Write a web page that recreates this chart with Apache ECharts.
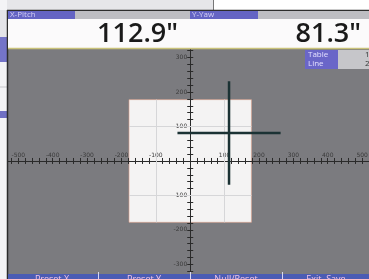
<!DOCTYPE html>
<html>
<head>
<meta charset="utf-8">
<script src="https://cdn.jsdelivr.net/npm/echarts@6/dist/echarts.min.js"></script>
<style>
  html, body { margin: 0; padding: 0; background: #fff; }
  #chart { width: 369px; height: 279px; }
</style>
</head>
<body>
<div id="chart"></div>
<script>
// readings shown on the display
const xPitch = 112.9;
const yYaw = 81.3;
const crossHalf = 150;          // half length of the crosshair arms
const tableHalf = 178;          // half size of the white table square
const tableGrid = [-100, 100];  // faint grid lines inside the square

const xLabels = [-500, -400, -300, -200, -100, 100, 200, 300, 400, 500];
const yLabels = [-300, -200, -100, 100, 200, 300];
const minorTicks = [];
for (let v = -520; v <= 520; v += 20) minorTicks.push(v);

const buttons = ['Preset X', 'Preset Y', 'Null/Reset', 'Exit, Save'];

// plot extents
const xMin = -530, xMax = 520, yMin = -328, yMax = 325;
const W = 369, H = 279;
const gLeft = 8, gRight = 0, gTop = 49, gBottom = 5;

// axes sit on zero: shift them in from the grid edge
const gW = W - gLeft - gRight, gH = H - gTop - gBottom;
const xAxisOffset = -gH * (0 - yMin) / (yMax - yMin);
const yAxisOffset = -gW * (0 - xMin) / (xMax - xMin);

const chart = echarts.init(document.getElementById('chart'));

// grid lines inside the square
let gridLines = [];
tableGrid.forEach(v => {
    gridLines.push([{coord: [v, tableHalf]}, {coord: [v, -tableHalf]}]);
    gridLines.push([{coord: [-tableHalf, v]}, {coord: [tableHalf, v]}]);
});

function axisX(inside) {
    return {
        type: 'value', min: xMin, max: xMax, z: 3, position: 'bottom', offset: xAxisOffset,
        axisLine: {show: !inside, onZero: false, lineStyle: {color: '#2a2a2a', width: 1}},
        axisTick: {show: true, inside: inside, length: 3, customValues: minorTicks,
            lineStyle: {color: '#2a2a2a'}},
        axisLabel: {show: !inside, inside: true, margin: 3, customValues: xLabels,
            fontSize: 6, color: '#3a3a3a', fontFamily: 'DejaVu Sans'},
        splitLine: {show: false}
    };
}
function axisY(inside) {
    return {
        type: 'value', min: yMin, max: yMax, z: 3, position: 'left', offset: yAxisOffset,
        axisLine: {show: !inside, onZero: false, lineStyle: {color: '#2a2a2a', width: 1}},
        axisTick: {show: true, inside: inside, length: 3, customValues: minorTicks,
            lineStyle: {color: '#2a2a2a'}},
        axisLabel: {show: !inside, margin: 3, customValues: yLabels,
            fontSize: 6, color: '#3a3a3a', fontFamily: 'DejaVu Sans'},
        splitLine: {show: false}
    };
}

const font = 'Open Sans';
let graphic = [
    // window behind the device
    {type: 'rect', shape: {x: 0, y: 0, width: 213, height: 10}, style: {fill: '#e6e6e9'}},
    {type: 'rect', shape: {x: 0, y: 0, width: 7, height: 279}, style: {fill: '#f4f4f6'}},
    {type: 'rect', shape: {x: 0, y: 10, width: 7, height: 27}, style: {fill: '#e4e4e8'}},
    {type: 'rect', shape: {x: 0, y: 37, width: 7, height: 25}, style: {fill: '#7474c8'}},
    {type: 'rect', shape: {x: 0, y: 111, width: 7, height: 7}, style: {fill: '#7070c4'}},
    {type: 'line', shape: {x1: 0, y1: 87, x2: 7, y2: 87}, style: {stroke: '#c8c8cc', lineWidth: 1}},
    {type: 'line', shape: {x1: 213.5, y1: 0, x2: 213.5, y2: 10}, style: {stroke: '#777', lineWidth: 1}},
    // device frame
    {type: 'line', shape: {x1: 7, y1: 10.5, x2: 369, y2: 10.5}, style: {stroke: '#2c2c2c', lineWidth: 1.5}},
    {type: 'line', shape: {x1: 7.5, y1: 10, x2: 7.5, y2: 279}, style: {stroke: '#2c2c2c', lineWidth: 1.5}},
    // header bar
    {type: 'rect', shape: {x: 8, y: 11, width: 361, height: 8}, style: {fill: '#bdbdc2'}},
    {type: 'rect', shape: {x: 8, y: 11, width: 67, height: 8}, style: {fill: '#6464c4'}},
    {type: 'rect', shape: {x: 190, y: 11, width: 68, height: 8}, style: {fill: '#6464c4'}},
    {type: 'text', x: 10, y: 15, style: {text: 'X-Pitch', fill: '#d4d0f4', fontSize: 8,
        fontFamily: font, verticalAlign: 'middle'}},
    {type: 'text', x: 192, y: 15, style: {text: 'Y-Yaw', fill: '#d4d0f4', fontSize: 8,
        fontFamily: font, verticalAlign: 'middle'}},
    // readout panel
    {type: 'rect', shape: {x: 8, y: 19, width: 361, height: 29}, style: {fill: '#fbfafb'}},
    {type: 'text', x: 178, y: 34.5, style: {text: xPitch.toFixed(1) + '"', fill: '#1a1a1a',
        fontSize: 27, fontWeight: 600, fontFamily: font, align: 'right', verticalAlign: 'middle'}},
    {type: 'text', x: 361, y: 34.5, style: {text: yYaw.toFixed(1) + '"', fill: '#1a1a1a',
        fontSize: 27, fontWeight: 600, fontFamily: font, align: 'right', verticalAlign: 'middle'}},
    {type: 'line', shape: {x1: 8, y1: 48.5, x2: 369, y2: 48.5}, style: {stroke: '#c9c27a', lineWidth: 1.5}},
    // Table / Line box
    {type: 'rect', shape: {x: 305, y: 50, width: 33, height: 19}, style: {fill: '#6a66c8'}},
    {type: 'rect', shape: {x: 338, y: 50, width: 31, height: 19}, style: {fill: '#c6c6ca'}},
    {type: 'text', x: 308, y: 54.5, style: {text: 'Table', fill: '#e4e0ff', fontSize: 8,
        fontFamily: font, verticalAlign: 'middle'}},
    {type: 'text', x: 308, y: 63.5, style: {text: 'Line', fill: '#e4e0ff', fontSize: 8,
        fontFamily: font, verticalAlign: 'middle'}},
    {type: 'text', x: 365, y: 54.5, style: {text: '1', fill: '#333', fontSize: 8,
        fontFamily: font, verticalAlign: 'middle'}},
    {type: 'text', x: 365, y: 63.5, style: {text: '2', fill: '#333', fontSize: 8,
        fontFamily: font, verticalAlign: 'middle'}},
    // bottom button bar
    {type: 'rect', shape: {x: 8, y: 274, width: 361, height: 5}, style: {fill: '#4b5cb4'}}
];
const btnCentres = [52, 144, 236, 326];
buttons.forEach((b, i) => {
    graphic.push({type: 'text', x: btnCentres[i], y: 275, style: {text: b, fill: '#f2c4e6',
        fontSize: 9, fontFamily: font, align: 'center', verticalAlign: 'top'}});
});
[98, 190, 282].forEach(x => {
    graphic.push({type: 'line', shape: {x1: x + 0.5, y1: 272, x2: x + 0.5, y2: 279},
        style: {stroke: '#d8d8f0', lineWidth: 1}});
});

chart.setOption({
    backgroundColor: '#ffffff',
    animation: false,
    grid: {left: gLeft, right: gRight, top: gTop, bottom: gBottom, show: true,
        backgroundColor: '#7b7b7f', borderWidth: 0, outerBoundsMode: 'none'},
    xAxis: [axisX(false), axisX(true)],
    yAxis: [axisY(false), axisY(true)],
    graphic: graphic.map(g => Object.assign({z: 100, silent: true}, g)),
    series: [
        {
            // white table square
            type: 'line', z: 1, data: [], symbol: 'none',
            markArea: {
                silent: true,
                itemStyle: {color: '#f4f3f3', borderColor: '#e2a48e', borderWidth: 0.6},
                data: [[{coord: [-tableHalf, tableHalf]}, {coord: [tableHalf, -tableHalf]}]]
            },
            markLine: {
                silent: true, symbol: 'none', label: {show: false},
                lineStyle: {color: '#d6d6d8', width: 1, type: 'solid'},
                data: gridLines
            }
        },
        {
            // crosshair, horizontal arm
            type: 'line', z: 5, symbol: 'none',
            lineStyle: {color: '#1b3234', width: 2.5},
            data: [[xPitch - crossHalf, yYaw], [xPitch + crossHalf, yYaw]]
        },
        {
            // crosshair, vertical arm
            type: 'line', z: 5, symbol: 'none',
            lineStyle: {color: '#1b3234', width: 2.5},
            data: [[xPitch, yYaw - crossHalf], [xPitch, yYaw + crossHalf]]
        }
    ]
});
</script>
</body>
</html>
